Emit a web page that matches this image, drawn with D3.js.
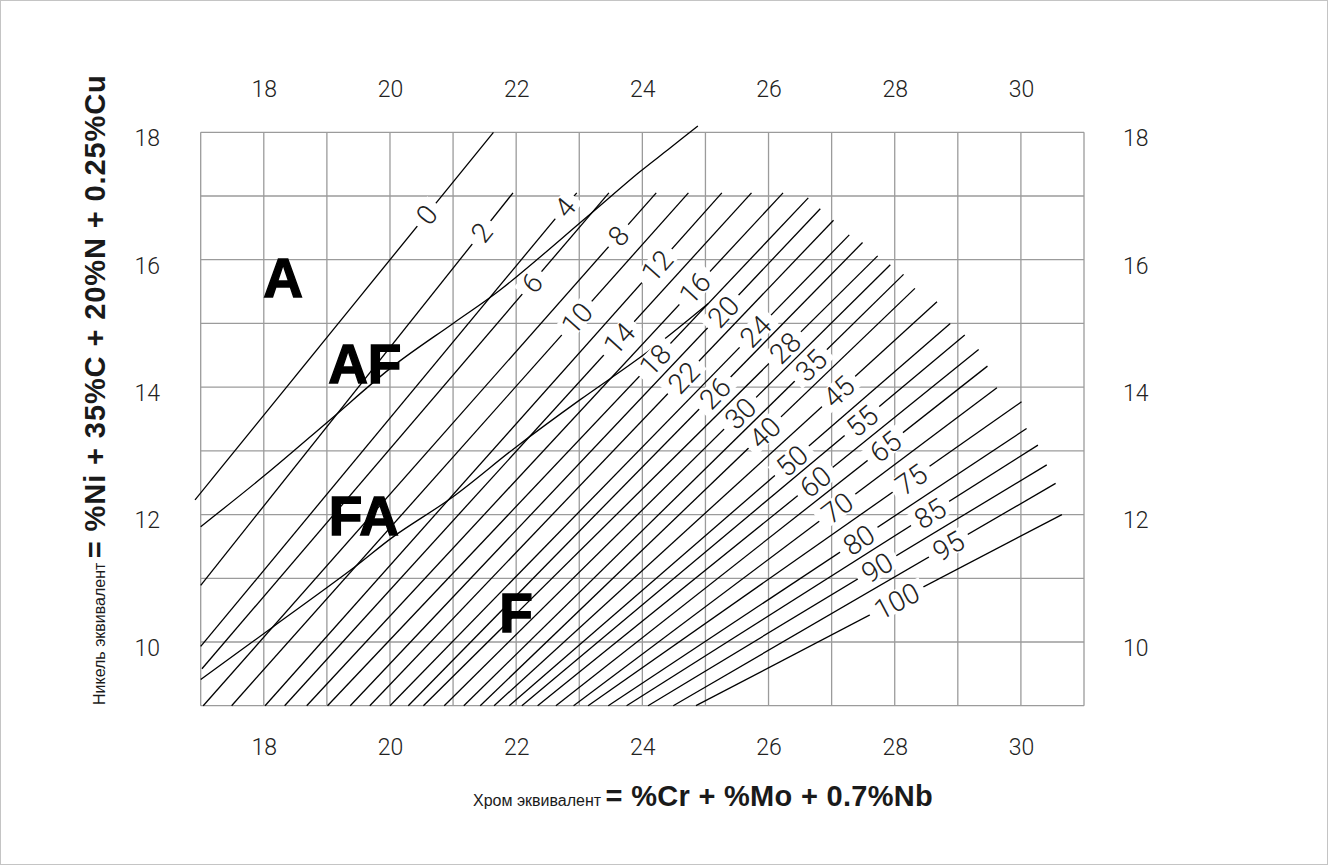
<!DOCTYPE html>
<html>
<head>
<meta charset="utf-8">
<script src="https://cdnjs.cloudflare.com/ajax/libs/d3/7.8.5/d3.min.js"></script>
<style>
  body { margin: 0; background: #fff; }
  svg { display: block; }
  text { font-family: "Liberation Sans", Arial, Helvetica, sans-serif; fill: #1a1a1a; }
  .light { font-family: Roboto, "Liberation Sans", sans-serif; font-weight: 300; }
</style>
</head>
<body>
<svg id="chart"></svg>
<script>
var width = 1328, height = 865;
var plot = {left: 200.7, right: 1084, top: 132.3, bottom: 705.7};

// axis ranges and ticks
var crDomain = [17, 31];
var niDomain = [9, 18];
var crTicks = [18, 20, 22, 24, 26, 28, 30];
var niTicks = [10, 12, 14, 16, 18];

// iso-FN lines: value, start [Cr, Ni], end [Cr, Ni], label position (Cr)
var fnValues = [0, 2, 4, 6, 8, 10, 12, 14, 16, 18, 20, 22, 24, 26, 28, 30,
                35, 40, 45, 50, 55, 60, 65, 70, 75, 80, 85, 90, 95, 100];
var fnStart = [
  [16.91, 12.23], [17.00, 10.89], [17.00, 9.93], [17.02, 9.58], [17.04, 9], [17.49, 9],
  [18.02, 9], [18.33, 9], [18.68, 9], [19.01, 9], [19.37, 9], [19.68, 9],
  [20.00, 9], [20.29, 9], [20.53, 9], [20.86, 9], [21.17, 9], [21.43, 9],
  [21.65, 9], [21.89, 9], [22.09, 9], [22.34, 9], [22.63, 9], [22.91, 9],
  [23.14, 9], [23.46, 9], [23.75, 9], [24.09, 9], [24.49, 9], [24.85, 9]
];
var fnEnd = [
  [21.64, 18.00], [21.95, 17.05], [22.96, 17.05], [23.47, 17.05], [24.22, 17.05], [24.73, 17.05],
  [25.26, 17.05], [25.73, 17.05], [26.23, 17.05], [26.63, 16.97], [26.82, 16.80], [27.03, 16.62],
  [27.28, 16.39], [27.49, 16.27], [27.73, 16.06], [27.93, 15.92], [28.14, 15.77], [28.32, 15.55],
  [28.67, 15.34], [28.88, 15.00], [29.11, 14.82], [29.33, 14.59], [29.47, 14.33], [29.62, 13.99],
  [30.01, 13.77], [30.09, 13.35], [30.27, 13.09], [30.41, 12.78], [30.55, 12.49], [30.65, 12.00]
];
var fnLabelCr = [20.58, 21.45, 22.77, 22.25, 23.62, 22.96, 24.23, 23.63, 24.83, 24.20, 25.28, 24.65,
                 25.79, 25.15, 26.26, 25.55, 26.67, 25.94, 27.11, 26.37, 27.48, 26.74, 27.85, 27.09,
                 28.26, 27.43, 28.56, 27.72, 28.85, 28.03];

// solidification mode boundaries AF/FA and FA/F
var afFaCr = [17.00, 18.02, 19.03, 20.05, 21.00, 21.74, 23.12, 23.96, 24.41, 24.88];
var afFaNi = [11.81, 12.62, 13.47, 14.33, 15.00, 15.52, 16.67, 17.38, 17.73, 18.10];
var faFCr = [17.00, 18.15, 19.42, 20.05, 21.00, 22.01, 23.01, 23.83, 24.33, 25.04];
var faFNi = [9.41, 10.24, 11.16, 11.65, 12.28, 13.07, 13.80, 14.37, 14.74, 15.31];

// region labels (left edge / baseline)
var regionNames = ["A", "AF", "FA", "F"];
var regionCr = [17.99, 19.02, 19.03, 21.73];
var regionNi = [15.41, 14.07, 11.68, 10.16];

var svg = d3.select("#chart").attr("width", width).attr("height", height);

svg.append("rect")
  .attr("x", 0.5).attr("y", 0.5)
  .attr("width", width - 1).attr("height", height - 1)
  .attr("fill", "#fff").attr("stroke", "#c4c4c4");

var x = d3.scaleLinear().domain(crDomain).range([plot.left, plot.right]);
var y = d3.scaleLinear().domain(niDomain).range([plot.bottom, plot.top]);

// grid
var grid = svg.append("g").attr("class", "grid")
  .attr("stroke", "#9b9b9b").attr("stroke-width", 1.3);
grid.selectAll("line.v")
  .data(d3.range(crDomain[0], crDomain[1] + 1))
  .enter().append("line")
  .attr("x1", function(d) { return x(d); })
  .attr("x2", function(d) { return x(d); })
  .attr("y1", y(niDomain[0])).attr("y2", y(niDomain[1]));
grid.selectAll("line.h")
  .data(d3.range(niDomain[0], niDomain[1] + 1))
  .enter().append("line")
  .attr("y1", function(d) { return y(d); })
  .attr("y2", function(d) { return y(d); })
  .attr("x1", x(crDomain[0])).attr("x2", x(crDomain[1]));

// FN lines
var line = d3.line()
  .x(function(d) { return x(d[0]); })
  .y(function(d) { return y(d[1]); });

var fnData = fnValues.map(function(v, i) {
  return {fn: v, a: fnStart[i], b: fnEnd[i], lc: fnLabelCr[i]};
});

svg.append("g").attr("class", "fn-lines")
  .selectAll("path")
  .data(fnData)
  .enter().append("path")
  .attr("d", function(d) { return line([d.a, d.b]); })
  .attr("fill", "none").attr("stroke", "#000").attr("stroke-width", 1.3);

var curve = d3.line()
  .x(function(d) { return x(d[0]); })
  .y(function(d) { return y(d[1]); })
  .curve(d3.curveCatmullRom.alpha(0.5));

svg.append("path")
  .attr("d", curve(afFaCr.map(function(c, i) { return [c, afFaNi[i]]; })))
  .attr("fill", "none").attr("stroke", "#000").attr("stroke-width", 1.3);
svg.append("path")
  .attr("d", curve(faFCr.map(function(c, i) { return [c, faFNi[i]]; })))
  .attr("fill", "none").attr("stroke", "#000").attr("stroke-width", 1.3);

// labels on FN lines, with a white gap in the line
var labels = svg.append("g").attr("class", "fn-labels")
  .selectAll("g")
  .data(fnData)
  .enter().append("g")
  .attr("transform", function(d) {
    var x1 = x(d.a[0]), y1 = y(d.a[1]), x2 = x(d.b[0]), y2 = y(d.b[1]);
    var t = (x(d.lc) - x1) / (x2 - x1);
    var px = x1 + t * (x2 - x1), py = y1 + t * (y2 - y1);
    var ang = Math.atan2(y2 - y1, x2 - x1) * 180 / Math.PI;
    return "translate(" + px + "," + py + ") rotate(" + ang + ")";
  });

labels.append("rect").attr("fill", "#fff");
labels.append("text")
  .attr("class", "light")
  .attr("text-anchor", "middle")
  .attr("dy", "0.36em")
  .style("font-size", "28px")
  .style("fill", "#222")
  .text(function(d) { return d.fn; });
labels.each(function() {
  var g = d3.select(this);
  var w = g.select("text").node().getComputedTextLength();
  g.select("rect")
    .attr("x", -w / 2 - 7).attr("y", -11)
    .attr("width", w + 14).attr("height", 22);
});

// region labels
svg.append("g").selectAll("text")
  .data(regionNames)
  .enter().append("text")
  .attr("x", function(d, i) { return x(regionCr[i]); })
  .attr("y", function(d, i) { return y(regionNi[i]); })
  .style("font-size", "55px")
  .style("font-weight", "bold")
  .style("fill", "#000")
  .style("stroke", "#000").style("stroke-width", 1.4)
  .text(function(d) { return d; });

// axes
function styleAxis(g) {
  g.select(".domain").remove();
  g.selectAll(".tick line").remove();
  g.selectAll(".tick text")
    .attr("class", "light")
    .style("font-size", "23px")
    .style("fill", "#222");
}

svg.append("g")
  .attr("transform", "translate(0,97)")
  .call(d3.axisTop(x).tickValues(crTicks).tickSize(0).tickPadding(0))
  .call(styleAxis);

svg.append("g")
  .attr("transform", "translate(0,739)")
  .call(d3.axisBottom(x).tickValues(crTicks).tickSize(0).tickPadding(0))
  .call(styleAxis);

svg.append("g")
  .attr("transform", "translate(160,6)")
  .call(d3.axisLeft(y).tickValues(niTicks).tickSize(0).tickPadding(0))
  .call(styleAxis);

svg.append("g")
  .attr("transform", "translate(1123,6)")
  .call(d3.axisRight(y).tickValues(niTicks).tickSize(0).tickPadding(0))
  .call(styleAxis);

// axis titles: one text each, small light part then bold formula
var xt = svg.append("text").attr("x", 473).attr("y", 806);
xt.append("tspan").style("font-size", "16px").text("Хром эквивалент ");
xt.append("tspan").style("font-size", "29px").style("font-weight", "bold")
  .style("letter-spacing", "0.3px")
  .text("= %Cr + %Mo + 0.7%Nb");

var yt = svg.append("text").attr("transform", "translate(105,705) rotate(-90)");
yt.append("tspan").style("font-size", "16px").text("Никель эквивалент ");
yt.append("tspan").style("font-size", "29px").style("font-weight", "bold")
  .style("letter-spacing", "0.9px")
  .text("= %Ni + 35%C + 20%N + 0.25%Cu");
</script>
</body>
</html>
